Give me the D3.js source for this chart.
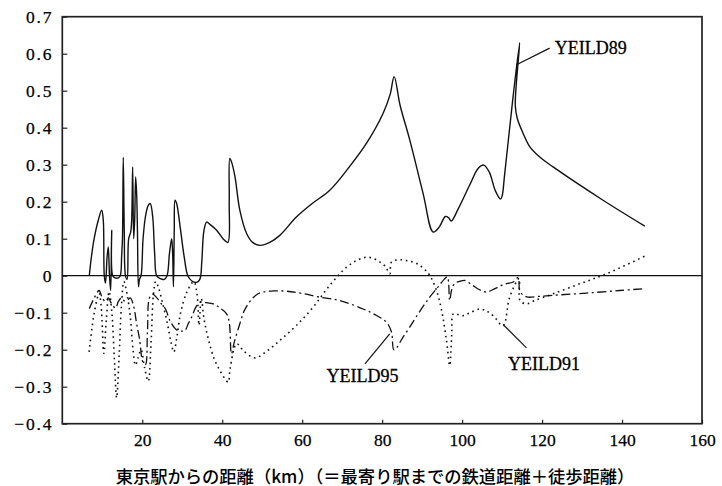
<!DOCTYPE html>
<html>
<head>
<meta charset="utf-8">
<script src="https://cdn.jsdelivr.net/npm/d3@7"></script>
<style>
  body { margin: 0; background: #fff; }
  text { fill: #000; }
</style>
</head>
<body>
<script>
// YEILD89 (solid)
var yeild89 = [
  [6.75,0],[7.75,0.087],[9.0,0.15],[9.85,0.177],[10.25,0.15],[10.5,0.0],[10.8,-0.02],[11.2,0.05],
  [11.5,0.078],[11.8,0.0],[12.1,-0.04],[12.35,0.123],[12.6,0.0],[13.2,-0.006],[14.0,-0.006],[14.5,0.0],
  [14.85,0.055],[15.05,0.1],[15.25,0.32],[15.5,0.12],[15.8,0.0],[16.2,-0.01],[16.6,0.1],[17.1,0.118],
  [17.35,0.15],[17.6,0.294],[17.85,0.1],[18.1,0.15],[18.35,0.267],[18.6,0.22],[18.8,0.12],[19.05,-0.03],
  [19.3,-0.01],[19.7,0.0],[20.2,0.1],[20.8,0.16],[21.5,0.19],[22.0,0.195],[22.6,0.16],[23.1,0.06],
  [23.6,0.0],[24.5,-0.008],[25.5,-0.01],[26.2,0.0],[26.8,0.06],[27.35,0.10],[27.6,0.06],[27.8,-0.03],
  [28.0,0.12],[28.2,0.204],[28.6,0.195],[29.5,0.13],[30.5,0.05],[31.4,0.0],[32.5,-0.015],[33.6,-0.018],
  [34.4,-0.01],[34.9,0.04],[35.4,0.12],[36.1,0.145],[37.0,0.138],[38.6,0.123],[40.2,0.1],[41.4,0.09],
  [41.75,0.2],[41.9,0.317],[42.4,0.305],[43.2,0.267],[44.4,0.177],[46.1,0.114],[47.6,0.09],[49.4,0.082],
  [51.9,0.09],[54.4,0.109],[58.6,0.159],[62.5,0.195],[66.9,0.231],[71.5,0.29],[76.1,0.358],[80.25,0.439],
  [82.0,0.49],[83.0,0.538],[84.5,0.46],[86.9,0.367],[90.25,0.222],[92.75,0.118],[94.3,0.132],[95.8,0.16],
  [96.6,0.157],[97.3,0.148],[99.0,0.18],[101.9,0.245],[104.0,0.29],[105.4,0.299],[106.8,0.28],[108.3,0.23],
  [109.6,0.207],[110.0,0.215],[110.6,0.27],[111.6,0.37],[112.75,0.484],[114.4,0.63],[113.3,0.46],[113.8,0.425],
  [115.25,0.385],[116.9,0.349],[119.5,0.32],[122.75,0.294],[135.25,0.204],[145.7,0.134]
];

// YEILD91 (dotted)
var yeild91 = [
  [6.7,-0.206],[8.0,-0.1],[9.2,-0.048],[9.7,-0.08],[10.4,-0.21],[11.0,-0.12],[11.7,-0.043],[12.4,-0.1],
  [13.0,-0.22],[13.6,-0.33],[14.2,-0.22],[14.8,-0.08],[15.4,-0.016],[16.2,-0.05],[17.0,-0.11],[17.7,-0.2],
  [18.3,-0.242],[19.0,-0.22],[19.7,-0.2],[20.6,-0.25],[21.5,-0.285],[22.2,-0.18],[22.8,-0.05],[23.35,-0.016],
  [24.0,-0.03],[25.0,-0.07],[26.3,-0.13],[27.2,-0.18],[27.9,-0.206],[28.6,-0.17],[29.6,-0.1],[31.2,-0.043],
  [32.9,-0.016],[33.7,-0.05],[34.2,-0.134],[34.75,-0.061],[35.5,-0.12],[36.5,-0.17],[38.0,-0.225],[39.6,-0.26],
  [40.8,-0.28],[41.5,-0.288],[42.0,-0.25],[43.6,-0.184],[45.5,-0.205],[48.2,-0.222],[51.0,-0.205],[54.4,-0.175],
  [58.5,-0.135],[62.75,-0.085],[66.9,-0.026],[71.1,0.023],[74.0,0.043],[76.5,0.05],[79.0,0.04],[80.8,0.025],
  [81.9,0.005],[82.35,0.037],[84.4,0.043],[86.5,0.04],[88.6,0.033],[90.5,0.018],[91.9,0.001],[93.6,-0.04],
  [94.8,-0.09],[96.1,-0.175],[96.9,-0.243],[97.4,-0.16],[97.8,-0.103],[99.0,-0.105],[100.25,-0.108],[102.0,-0.1],
  [104.4,-0.09],[106.0,-0.095],[107.75,-0.108],[110.25,-0.135],[111.9,-0.058],[114.25,-0.008],[114.5,-0.067],
  [116.1,-0.076],[118.0,-0.068],[122.75,-0.049],[129.4,-0.022],[136.1,0.005],[146.1,0.055]
];

// YEILD95 (dash-dot)
var yeild95 = [
  [6.75,-0.089],[8.0,-0.06],[9.2,-0.04],[10.0,-0.06],[10.8,-0.07],[11.5,-0.06],[12.3,-0.075],[13.35,-0.088],
  [14.0,-0.07],[14.8,-0.06],[15.5,-0.068],[16.3,-0.066],[17.0,-0.06],[17.8,-0.08],[18.6,-0.13],[19.3,-0.17],
  [20.2,-0.235],[20.8,-0.24],[21.3,-0.15],[21.8,-0.06],[22.6,-0.05],[23.5,-0.058],[24.4,-0.071],[25.8,-0.09],
  [26.9,-0.121],[28.0,-0.14],[28.8,-0.148],[30.0,-0.15],[30.7,-0.148],[31.5,-0.13],[32.35,-0.112],[33.4,-0.085],
  [34.4,-0.072],[36.0,-0.073],[37.75,-0.076],[39.5,-0.088],[41.1,-0.103],[41.8,-0.13],[42.3,-0.211],[43.0,-0.18],
  [44.4,-0.13],[45.5,-0.095],[46.9,-0.07],[48.5,-0.052],[50.25,-0.044],[53.0,-0.041],[56.1,-0.042],[60.0,-0.048],
  [64.4,-0.058],[69.4,-0.067],[75.25,-0.09],[78.5,-0.107],[81.1,-0.126],[82.35,-0.153],[82.9,-0.2],[83.6,-0.195],
  [85.0,-0.17],[86.9,-0.139],[89.5,-0.095],[91.9,-0.058],[94.0,-0.03],[95.5,-0.01],[96.3,-0.003],[96.9,-0.067],
  [97.35,-0.04],[98.2,-0.02],[99.5,-0.015],[100.7,-0.013],[102.5,-0.025],[104.4,-0.038],[106.1,-0.044],[108.2,-0.035],
  [110.25,-0.024],[112.75,-0.017],[114.0,-0.005],[114.4,-0.04],[115.2,-0.052],[116.5,-0.058],[119.0,-0.056],
  [122.75,-0.053],[131.1,-0.047],[139.4,-0.04],[145.7,-0.035]
];

var xTicks = [20, 40, 60, 80, 100, 120, 140, 160];
var yTicks = [-0.4, -0.3, -0.2, -0.1, 0, 0.1, 0.2, 0.3, 0.4, 0.5, 0.6, 0.7];
var xTitle = "東京駅からの距離（km）（＝最寄り駅までの鉄道距離＋徒歩距離）";

// labels: name, text pos, leader from / to (data units)
var labels = [
  {name: "YEILD89", at: [123.2, 0.60], from: [121.9, 0.615], to: [113.6, 0.57]},
  {name: "YEILD95", at: [66.1, -0.286], from: [75.7, -0.238], to: [81.9, -0.157]},
  {name: "YEILD91", at: [111.5, -0.254], from: [116.1, -0.195], to: [110.25, -0.132]}
];

var width = 722, height = 486;
var margin = {left: 62.3, right: 20, top: 16.7, bottom: 62.3};

var svg = d3.select("body").append("svg")
    .attr("width", width)
    .attr("height", height);

var x = d3.scaleLinear().domain([0, 160]).range([margin.left, width - margin.right]);
var y = d3.scaleLinear().domain([-0.4, 0.7]).range([height - margin.bottom, margin.top]);

var numFmt = function (d) {
    if (d === 0) return "0";
    var s = Math.abs(d).toFixed(1);
    return (d < 0 ? "\u2212" : "") + s;
};

// axes
svg.append("g")
    .attr("transform", "translate(0," + y(-0.4) + ")")
    .call(d3.axisBottom(x).tickValues(xTicks).tickSize(-4).tickPadding(10).tickFormat(d3.format("d")))
    .call(g => g.select(".domain").remove())
    .selectAll("text")
    .attr("font-family", "Liberation Serif, serif")
    .attr("font-size", 17.5)
    .attr("fill", "#000")
    .attr("stroke", "#000").attr("stroke-width", 0.25);

svg.append("g")
    .attr("transform", "translate(" + x(0) + ",0)")
    .call(d3.axisLeft(y).tickValues(yTicks).tickSize(-5).tickPadding(9).tickFormat(numFmt))
    .call(g => g.select(".domain").remove())
    .selectAll("text")
    .attr("font-family", "Liberation Serif, serif")
    .attr("font-size", 17.5)
    .attr("letter-spacing", 1.8)
    .attr("fill", "#000")
    .attr("stroke", "#000").attr("stroke-width", 0.25);

svg.selectAll(".tick line").attr("stroke", "#222").attr("stroke-width", 1.2);

// frame
svg.append("rect")
    .attr("x", x(0)).attr("y", y(0.7))
    .attr("width", x(160) - x(0)).attr("height", y(-0.4) - y(0.7))
    .attr("fill", "none").attr("stroke", "#222").attr("stroke-width", 1.7);

// zero line
svg.append("line")
    .attr("x1", x(0)).attr("x2", x(160))
    .attr("y1", y(0)).attr("y2", y(0))
    .attr("stroke", "#111").attr("stroke-width", 1.3);

var line = d3.line()
    .x(d => x(d[0]))
    .y(d => y(d[1]))
    .curve(d3.curveCatmullRom.alpha(0.5));

svg.append("path").datum(yeild95)
    .attr("d", line).attr("fill", "none")
    .attr("stroke", "#111").attr("stroke-width", 1.3)
    .attr("stroke-dasharray", "9,3.5,2,3.5");

svg.append("path").datum(yeild91)
    .attr("d", line).attr("fill", "none")
    .attr("stroke", "#111").attr("stroke-width", 1.6)
    .attr("stroke-dasharray", "1.6,3.8");

svg.append("path").datum(yeild89)
    .attr("d", line).attr("fill", "none")
    .attr("stroke", "#111").attr("stroke-width", 1.4);

// series labels with leader lines
labels.forEach(function (l) {
    svg.append("line")
        .attr("x1", x(l.from[0])).attr("y1", y(l.from[1]))
        .attr("x2", x(l.to[0])).attr("y2", y(l.to[1]))
        .attr("stroke", "#111").attr("stroke-width", 1.2);
    svg.append("text")
        .attr("x", x(l.at[0])).attr("y", y(l.at[1]))
        .attr("font-family", "Liberation Serif, serif")
        .attr("font-size", 18)
        .attr("stroke", "#000").attr("stroke-width", 0.3)
        .text(l.name);
});

// x title
svg.append("text")
    .attr("x", 375).attr("y", 475)
    .attr("text-anchor", "middle")
    .attr("dominant-baseline", "central")
    .attr("font-family", "Noto Sans CJK JP")
    .attr("font-weight", 500)
    .attr("font-size", 17.3)
    .text(xTitle);
</script>
</body>
</html>
